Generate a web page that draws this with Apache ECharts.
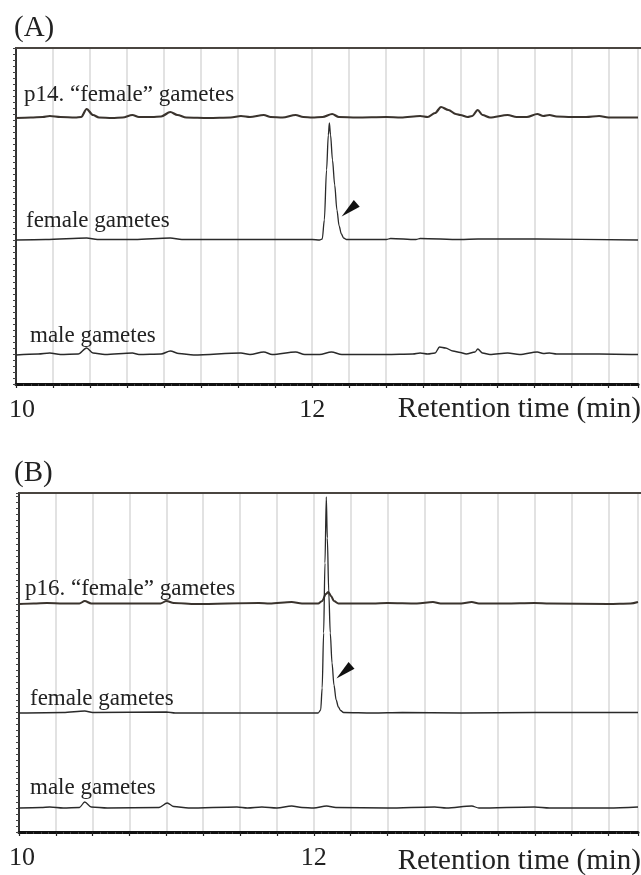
<!DOCTYPE html>
<html>
<head>
<meta charset="utf-8">
<script src="https://cdn.jsdelivr.net/npm/echarts@6/dist/echarts.min.js"></script>
<style>
html,body{margin:0;padding:0;background:#fff;}
#c{width:641px;height:875px;}
</style>
</head>
<body>
<div id="c"></div>
<script>
// Retention time (min) / relative signal above each trace's baseline (arbitrary units)
const A_p14 = [[10,0],[10.1,0.5],[10.18,1],[10.228,2],[10.3,1],[10.4,0.5],[10.44,1],[10.477,9],[10.52,3],[10.56,0.5],[10.65,0],[10.72,0.5],[10.786,3],[10.83,1],[10.92,1],[10.98,1.5],[11.042,6],[11.09,3],[11.15,0.5],[11.3,0],[11.45,0.5],[11.519,2],[11.58,1],[11.673,3],[11.72,1],[11.8,0.5],[11.888,3],[11.94,1],[12.0,0.5],[12.07,1],[12.135,4],[12.18,1],[12.3,0.5],[12.5,1],[12.6,0.5],[12.729,2],[12.78,1],[12.83,5],[12.87,11],[12.92,8],[12.97,4],[13.0,3],[13.05,1],[13.08,2],[13.118,8],[13.15,3],[13.2,0.5],[13.32,3],[13.38,1],[13.45,1],[13.52,4],[13.56,2],[13.602,3],[13.65,1.5],[13.75,1],[13.85,1],[13.938,2],[14.0,0.5],[14.2,0.5]];
const A_female = [[10,0],[10.2,0.5],[10.477,2],[10.55,0.5],[10.8,0.5],[11.042,2],[11.12,0.5],[11.5,0.5],[11.7,0.5],[11.9,0.5],[12.0,0.5],[12.05,0],[12.068,1],[12.082,20],[12.097,70],[12.109,105],[12.116,117],[12.124,105],[12.137,80],[12.152,55],[12.167,30],[12.182,14],[12.197,6],[12.212,2],[12.232,0.5],[12.5,0.5],[12.53,1.5],[12.7,0.5],[12.73,1.5],[13.0,0.5],[13.12,1],[13.52,1],[14.2,0]];
const A_male = [[10,0],[10.15,1],[10.228,2],[10.3,0.5],[10.42,1],[10.477,7],[10.52,2],[10.6,0.5],[10.786,2],[10.83,0.5],[10.98,1],[11.042,4],[11.1,1.5],[11.2,0],[11.519,2],[11.58,0.5],[11.673,3],[11.73,0.5],[11.888,3],[11.95,0.5],[12.05,0.5],[12.13,3],[12.2,0.5],[12.5,0.5],[12.68,1],[12.729,2],[12.78,1],[12.83,2],[12.86,8],[12.9,7],[12.95,4],[13.0,2.5],[13.04,1],[13.1,3],[13.118,6],[13.15,2],[13.2,0.5],[13.32,2],[13.4,0.5],[13.52,3],[13.56,1.5],[13.602,2],[13.65,1],[13.938,1],[14.2,0.5]];
const B_p16 = [[10,0],[10.1,0.5],[10.189,1],[10.3,0.5],[10.41,0.5],[10.446,3],[10.49,0.5],[10.7,0.5],[10.96,0.5],[11.0,3],[11.05,1],[11.2,0],[11.627,1],[11.7,0.5],[11.85,2],[11.92,0.5],[12.03,0.5],[12.057,3],[12.082,10],[12.099,12],[12.117,8],[12.137,3],[12.167,0.5],[12.4,0.5],[12.5,1],[12.7,0.5],[12.809,2],[12.86,0.5],[13.0,0.5],[13.072,2],[13.12,0.5],[13.3,0.5],[13.497,1],[13.6,0.5],[14.0,0],[14.15,0.5],[14.2,2]];
const B_female = [[10,0],[10.3,0.5],[10.446,2],[10.5,0.5],[11.0,1],[11.06,0],[11.9,0],[12.03,0],[12.047,3],[12.057,25],[12.067,80],[12.076,150],[12.085,216],[12.092,175],[12.102,120],[12.112,80],[12.124,50],[12.137,28],[12.152,13],[12.167,6],[12.182,2.5],[12.202,0.5],[12.4,0],[12.6,0.5],[13.0,0],[13.5,0.5],[14.2,0.5]];
const B_male = [[10,0],[10.15,0.5],[10.209,1],[10.3,0],[10.41,0.5],[10.446,6],[10.49,1],[10.6,0],[10.95,0.5],[11.006,5],[11.05,1.5],[11.15,0],[11.479,1],[11.55,0],[11.648,1],[11.75,0],[11.85,2],[11.92,0.5],[12.0,0],[12.087,2],[12.15,0.5],[12.5,0],[12.82,1],[12.9,0],[13.072,2],[13.12,0],[13.497,1],[13.6,0],[14.0,0],[14.2,1]];
// baselines (vertical offsets of the stacked traces)
const offsetsA = [266, 144, 29];
const offsetsB = [228, 119, 24];
const traceNamesA = ['p14. \u201cfemale\u201d gametes', 'female gametes', 'male gametes'];
const traceNamesB = ['p16. \u201cfemale\u201d gametes', 'female gametes', 'male gametes'];
const xTickLabels = [10, 12];
const arrowA = [12.25, 174];
const arrowB = [12.205, 160];

const FONT = "'Liberation Serif','Times New Roman',serif";
const shift = (arr, off) => arr.map(p => [p[0], p[1] + off]);

const chart = echarts.init(document.getElementById('c'));

function bottomAxis(gi, firstPad) {
  return {
    type: 'value', gridIndex: gi, min: 10, max: 14.2, interval: 0.25, position: 'bottom',
    axisLine: {show: true, onZero: false, lineStyle: {color: '#111', width: 3}},
    axisTick: {show: true, length: 4, lineStyle: {color: '#222', width: 1.2}},
    minorTick: {show: true, splitNumber: 5, length: 2, lineStyle: {color: '#444'}},
    splitLine: {show: true, lineStyle: {color: '#d9d9d9', width: 1.5}},
    axisLabel: {
      color: '#222', fontFamily: FONT, fontSize: 26, margin: 13,
      rich: {f: {padding: [0, 0, 0, firstPad], fontFamily: FONT, fontSize: 26, color: '#222'}},
      formatter: v => {
        const r = Math.round(v * 100) / 100;
        if (xTickLabels.indexOf(r) < 0) return '';
        return r === xTickLabels[0] ? '{f|' + String(Math.round(v)) + '}' : String(Math.round(v));
      }
    }
  };
}
function topAxis(gi) {
  return {
    type: 'value', gridIndex: gi, min: 10, max: 14.2, position: 'top',
    axisLine: {show: true, onZero: false, lineStyle: {color: '#4a4540', width: 2}},
    axisTick: {show: false}, axisLabel: {show: false}, splitLine: {show: false}
  };
}
function leftAxis(gi, max) {
  return {
    type: 'value', gridIndex: gi, min: 0, max: max, interval: 6,
    axisLine: {show: true, onZero: false, lineStyle: {color: '#333', width: 2}},
    axisTick: {show: true, length: 3, lineStyle: {color: '#444', width: 1}},
    axisLabel: {show: false}, splitLine: {show: false}
  };
}
function line(name, data, xi, yi, width, color) {
  return {
    name: name, type: 'line', xAxisIndex: xi, yAxisIndex: yi, data: data,
    showSymbol: false, symbol: 'none', smooth: 0.3, smoothMonotone: 'x',
    lineStyle: {color: color, width: width}, silent: true, z: 3
  };
}
function arrowMark(coord) {
  return {
    symbol: 'triangle', symbolSize: [9, 20], symbolRotate: 131, silent: true,
    itemStyle: {color: '#111'}, label: {show: false},
    data: [{coord: coord}]
  };
}

const sA2 = line(traceNamesA[1], shift(A_female, offsetsA[1]), 0, 0, 1.3, '#2a2a2a');
sA2.markPoint = arrowMark(arrowA);
const sB2 = line(traceNamesB[1], shift(B_female, offsetsB[1]), 2, 2, 1.3, '#2a2a2a');
sB2.markPoint = arrowMark(arrowB);

const textStyle = (x, y, t, size) => ({
  type: 'text', left: x, top: y, silent: true, z: 100,
  style: {text: t, fill: '#222', font: size + 'px ' + FONT}
});

chart.setOption({
  animation: false,
  backgroundColor: '#fff',
  grid: [
    {left: 16, right: 0, top: 48, height: 336},
    {left: 16, right: 0, top: 48, height: 336},
    {left: 19, right: 0, top: 493, height: 339},
    {left: 19, right: 0, top: 493, height: 339}
  ],
  xAxis: [bottomAxis(0, 12), topAxis(1), bottomAxis(2, 6), topAxis(3)],
  yAxis: [leftAxis(0, 336), leftAxis(1, 336), leftAxis(2, 339), leftAxis(3, 339)],
  series: [
    line(traceNamesA[0], shift(A_p14, offsetsA[0]), 0, 0, 2.2, '#3a332d'),
    sA2,
    line(traceNamesA[2], shift(A_male, offsetsA[2]), 0, 0, 1.4, '#2a2a2a'),
    line(traceNamesB[0], shift(B_p16, offsetsB[0]), 2, 2, 2.0, '#3a332d'),
    sB2,
    line(traceNamesB[2], shift(B_male, offsetsB[2]), 2, 2, 1.3, '#2a2a2a')
  ],
  graphic: [
    textStyle(14, 14, '(A)', 29),
    textStyle(14, 459, '(B)', 29),
    textStyle(24, 83, traceNamesA[0], 23),
    textStyle(26, 209, traceNamesA[1], 23),
    textStyle(30, 324, traceNamesA[2], 23),
    textStyle(25, 577, traceNamesB[0], 23),
    textStyle(30, 687, traceNamesB[1], 23),
    textStyle(30, 776, traceNamesB[2], 23),
    {type: 'text', right: 0, top: 395, z: 100, silent: true, style: {text: 'Retention time (min)', fill: '#222', font: '29px ' + FONT}},
    {type: 'text', right: 0, top: 847, z: 100, silent: true, style: {text: 'Retention time (min)', fill: '#222', font: '29px ' + FONT}}
  ]
});
</script>
</body>
</html>
